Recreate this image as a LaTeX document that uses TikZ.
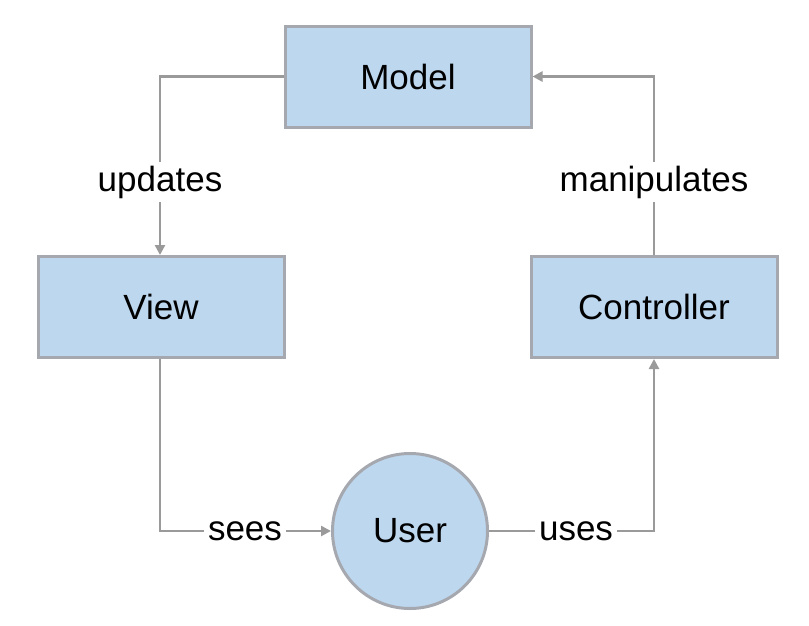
\documentclass[tikz,border=0pt]{standalone}
\usepackage{fontspec}
\setmainfont{Liberation Sans}
\usetikzlibrary{arrows.meta}
\definecolor{boxfill}{HTML}{BDD7EE}
\definecolor{boxline}{HTML}{A5A8AF}
\definecolor{conn}{HTML}{9A9A9A}
\begin{document}
\begin{tikzpicture}[x=1pt,y=-1pt,
  box/.style={draw=boxline,fill=boxfill,line width=3pt,minimum width=246pt,minimum height=101pt,inner sep=0pt,font=\fontsize{35}{40}\selectfont},
  usercircle/.style={draw=boxline,fill=boxfill,line width=3pt,circle,minimum size=155pt,inner sep=0pt,font=\fontsize{35}{40}\selectfont},
  conn/.style={draw=conn,line width=2.5pt},
  arr/.style={conn,-{Triangle[length=10pt,width=10pt]}},
  lbl/.style={fill=white,inner sep=4pt,font=\fontsize{35}{40}\selectfont}]
\useasboundingbox (0,0) rectangle (809,625);
\node[box] (model) at (408,76.5) {Model};
\node[box] (view) at (161,307) {View};
\node[box] (ctrl) at (654,307) {Controller};
\node[usercircle] (user) at (410,531) {User};
\coordinate (c1) at (160,76.5);
\coordinate (c2) at (654,76.5);
\coordinate (c3) at (160,531);
\coordinate (c4) at (654,531);
\draw[arr] (model.west) -- (c1) -- (view.north -| c1);
\draw[arr] (ctrl.north) -- (c2) -- (model.east);
\draw[arr] (view.south -| c3) -- (c3) -- (user.west);
\draw[arr] (user.east) -- (c4) -- (ctrl.south);
\node[lbl] (lu) at (160,182) {updates};
\node[lbl] (lm) at (654,182) {manipulates};
\node[lbl] (ls) at (245,531) {sees};
\node[lbl] (lus) at (576,531) {uses};
\end{tikzpicture}
\end{document}
